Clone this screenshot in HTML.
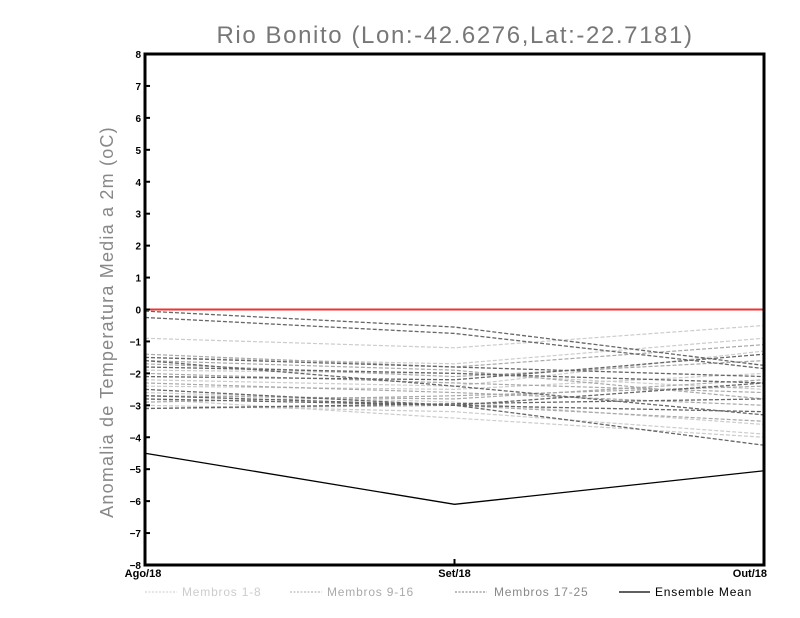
<!DOCTYPE html>
<html><head><meta charset="utf-8"><style>
html,body{margin:0;padding:0;background:#fff;width:800px;height:618px;overflow:hidden}
svg{display:block;font-family:"Liberation Sans",sans-serif}
</style></head><body>
<svg id="chart" width="800" height="618">
<text x="455" y="43" text-anchor="middle" font-size="24" fill="#777" letter-spacing="1.6">Rio Bonito (Lon:-42.6276,Lat:-22.7181)</text>
<text transform="translate(113,322) rotate(-90)" text-anchor="middle" font-size="18" fill="#888" letter-spacing="1.2">Anomalia de Temperatura Media a 2m (oC)</text>
<g id="marks"></g>
<g id="axes"></g>
<g font-size="12" letter-spacing="0.8">
<line x1="145" y1="592" x2="177" y2="592" stroke="#ccc" stroke-dasharray="2,1.5"/>
<text x="182" y="596" fill="#ccc">Membros 1-8</text>
<line x1="290" y1="592" x2="322" y2="592" stroke="#aaa" stroke-dasharray="2,1.5"/>
<text x="327" y="596" fill="#aaa">Membros 9-16</text>
<line x1="455" y1="592" x2="487" y2="592" stroke="#777" stroke-dasharray="2,1.5"/>
<text x="494" y="596" fill="#888">Membros 17-25</text>
<line x1="619" y1="592" x2="650" y2="592" stroke="#000" stroke-width="1.2"/>
<text x="655" y="596" fill="#000">Ensemble Mean</text>
</g>
</svg>
<script>
const categories = ["Ago/18","Set/18","Out/18"];
const yTicks = [8,7,6,5,4,3,2,1,0,-1,-2,-3,-4,-5,-6,-7,-8];
const membros1to8 = [
 [-0.9,-1.2,-0.5],[-1.5,-1.7,-0.9],[-2.2,-2.4,-1.3],[-2.6,-2.9,-3.6],
 [-3.0,-3.2,-3.9],[-1.9,-2.0,-2.5],[-2.8,-3.4,-4.0],[-2.4,-2.5,-2.0]];
const membros9to16 = [
 [-1.4,-1.8,-1.1],[-2.0,-2.3,-2.6],[-2.7,-2.8,-2.2],[-3.1,-3.0,-3.5],
 [-1.7,-2.1,-1.6],[-2.3,-2.6,-3.0],[-2.9,-2.7,-2.4],[-1.6,-1.9,-2.8]];
const membros17to25 = [
 [-0.05,-0.55,-1.75],[-0.25,-0.75,-1.85],[-1.5,-1.8,-2.1],[-1.8,-2.0,-2.3],
 [-2.1,-2.2,-1.4],[-2.5,-3.0,-2.3],[-2.8,-3.0,-3.2],[-3.1,-2.95,-2.8],[-1.6,-2.4,-3.3],[-2.7,-3.0,-4.25]];
const ensembleMean = [-4.5,-6.1,-5.05];

const L=145,R=764,T=54,B=565;
const xs=i=>L+(R-L)*i/(categories.length-1);
const ys=v=>T+(8-v)*(B-T)/16;
const NS="http://www.w3.org/2000/svg";
const marks=document.getElementById('marks'), axes=document.getElementById('axes');
function line(parent,vals,color,dash,w,name){
  const p=document.createElementNS(NS,'polyline');
  p.setAttribute('points',vals.map((v,i)=>xs(i)+','+ys(v)).join(' '));
  p.setAttribute('fill','none');p.setAttribute('stroke',color);p.setAttribute('stroke-width',w);
  if(dash)p.setAttribute('stroke-dasharray',dash);
  
  
  parent.appendChild(p);
}
membros1to8.forEach(s=>line(marks,s,'#ccc','4,2',1.2,'membros-1-8-line'));
membros9to16.forEach(s=>line(marks,s,'#a8a8a8','4,2',1.2,'membros-9-16-line'));
membros17to25.forEach(s=>line(marks,s,'#666','4,2',1.3,'membros-17-25-line'));
line(marks,[0,0,0],'#e33','',2,'zero-line');
line(marks,ensembleMean,'#000','',1.3,'ensemble-mean-line');
const fr=document.createElementNS(NS,'rect');
fr.setAttribute('x',L);fr.setAttribute('y',T);fr.setAttribute('width',R-L);fr.setAttribute('height',B-T);
fr.setAttribute('fill','none');fr.setAttribute('stroke','#000');fr.setAttribute('stroke-width','3');


axes.appendChild(fr);
yTicks.forEach(v=>{
  const t=document.createElementNS(NS,'line');
  t.setAttribute('x1',L);t.setAttribute('x2',L+5);t.setAttribute('y1',ys(v));t.setAttribute('y2',ys(v));
  t.setAttribute('stroke','#000');t.setAttribute('stroke-width','2');
  
  
  axes.appendChild(t);
  const tx=document.createElementNS(NS,'text');
  tx.setAttribute('x',L-4);tx.setAttribute('y',ys(v)+4);tx.setAttribute('text-anchor','end');
  tx.setAttribute('font-size','10');tx.setAttribute('font-weight','bold');
  tx.textContent=v<0?'\u2212'+(-v):String(v);
  
  
  axes.appendChild(tx);
});
categories.forEach((c,i)=>{
  const t=document.createElementNS(NS,'line');
  t.setAttribute('x1',xs(i));t.setAttribute('x2',xs(i));t.setAttribute('y1',B);t.setAttribute('y2',B-6);
  t.setAttribute('stroke','#000');t.setAttribute('stroke-width','2');
  
  
  axes.appendChild(t);
  const tx=document.createElementNS(NS,'text');
  tx.setAttribute('x',i===0?xs(i)-2:i===categories.length-1?xs(i)+3:xs(i));
  tx.setAttribute('y',B+12);
  tx.setAttribute('text-anchor',i===0?'middle':i===categories.length-1?'end':'middle');
  tx.setAttribute('font-size','11');tx.setAttribute('font-weight','bold');
  tx.textContent=c;
  
  
  axes.appendChild(tx);
});
</script>
</body></html>
